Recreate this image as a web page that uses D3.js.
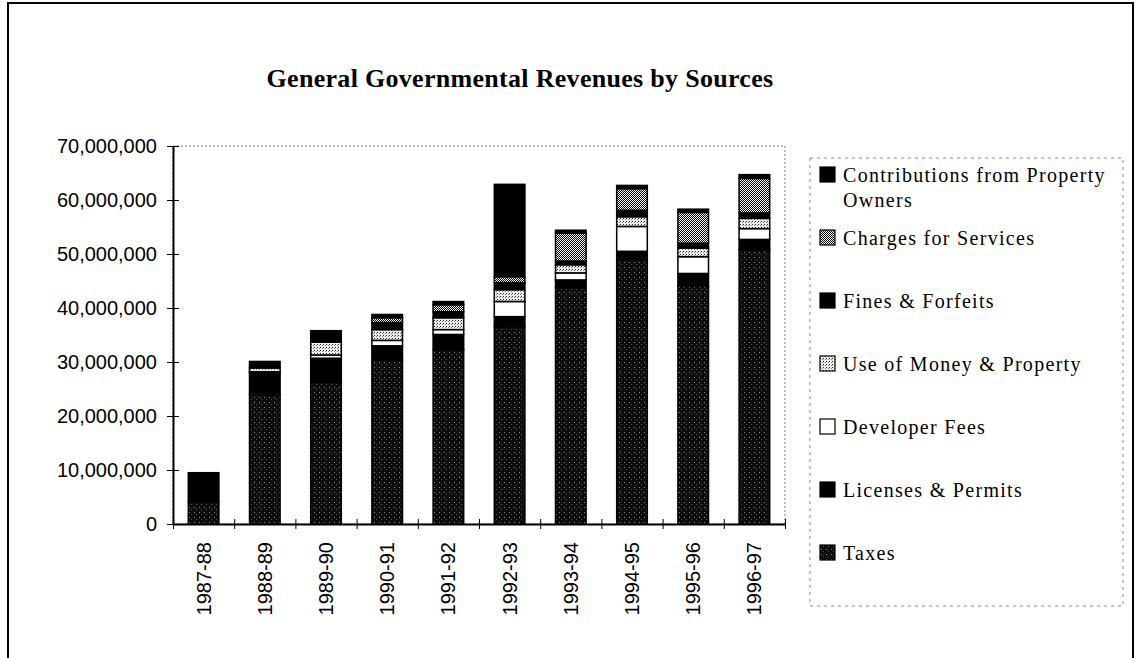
<!DOCTYPE html>
<html>
<head>
<meta charset="utf-8">
<script src="https://cdn.jsdelivr.net/npm/d3@7"></script>
<style>
  body { margin: 0; background: #fff; }
  svg { display: block; }
</style>
</head>
<body>
<div id="chart"></div>
<script>
// data (dollars)
var years = ["1987-88", "1988-89", "1989-90", "1990-91", "1991-92", "1992-93", "1993-94", "1994-95", "1995-96", "1996-97"];
var taxes = [4100000, 24000000, 26300000, 30400000, 32300000, 36500000, 43800000, 49000000, 44000000, 50800000];
var licensesPermits = [5400000, 4000000, 4400000, 2600000, 2800000, 1900000, 1400000, 1500000, 2400000, 1900000];
var developerFees = [0, 200000, 600000, 1000000, 900000, 2800000, 1300000, 4600000, 3100000, 2000000];
var useOfMoney = [0, 700000, 2400000, 2000000, 2200000, 2200000, 1500000, 1800000, 1600000, 1900000];
var finesForfeits = [0, 1200000, 2100000, 1300000, 1100000, 1300000, 700000, 1200000, 900000, 1000000];
var chargesServices = [0, 0, 0, 900000, 1300000, 1100000, 5200000, 4000000, 5700000, 6400000];
var contributions = [0, 0, 0, 600000, 600000, 17100000, 500000, 600000, 600000, 700000];
var yTicks = [0, 10000000, 20000000, 30000000, 40000000, 50000000, 60000000, 70000000];

// series bottom -> top
var series = [
  {key: "taxes", name: "Taxes", values: taxes, fill: "url(#pTaxes)"},
  {key: "lic", name: "Licenses & Permits", values: licensesPermits, fill: "#000"},
  {key: "dev", name: "Developer Fees", values: developerFees, fill: "#fff"},
  {key: "use", name: "Use of Money & Property", values: useOfMoney, fill: "url(#pUse)"},
  {key: "fines", name: "Fines & Forfeits", values: finesForfeits, fill: "#000"},
  {key: "chg", name: "Charges for Services", values: chargesServices, fill: "url(#pChg)"},
  {key: "contrib", name: ["Contributions from Property", "Owners"], values: contributions, fill: "#000"}
];

var W = 1139, H = 658;
var margin = {top: 146, left: 173, right: 354, bottom: 134};
var plotW = W - margin.left - margin.right,
    plotH = H - margin.top - margin.bottom;

var svg = d3.select("#chart").append("svg")
  .attr("width", W)
  .attr("height", H);

// fill patterns to mimic the halftone shading
var defs = svg.append("defs");
var pt = defs.append("pattern").attr("id", "pTaxes").attr("patternUnits", "userSpaceOnUse")
  .attr("width", 5).attr("height", 5);
pt.append("rect").attr("width", 5).attr("height", 5).attr("fill", "#0d0d0d");
pt.append("rect").attr("x", 1).attr("y", 1).attr("width", 1).attr("height", 1).attr("fill", "#8a8a8a");
pt.append("rect").attr("x", 3).attr("y", 3).attr("width", 1).attr("height", 1).attr("fill", "#555");

var pc = defs.append("pattern").attr("id", "pChg").attr("patternUnits", "userSpaceOnUse")
  .attr("width", 2).attr("height", 2);
pc.append("rect").attr("width", 2).attr("height", 2).attr("fill", "#fff");
pc.append("rect").attr("width", 1).attr("height", 1).attr("fill", "#000");
pc.append("rect").attr("x", 1).attr("y", 1).attr("width", 1).attr("height", 1).attr("fill", "#000");

var pu = defs.append("pattern").attr("id", "pUse").attr("patternUnits", "userSpaceOnUse")
  .attr("width", 3).attr("height", 3);
pu.append("rect").attr("width", 3).attr("height", 3).attr("fill", "#eee");
pu.append("rect").attr("width", 1).attr("height", 1).attr("fill", "#222");
pu.append("rect").attr("x", 2).attr("y", 1).attr("width", 1).attr("height", 1).attr("fill", "#777");

// outer frame
svg.append("rect")
  .attr("x", 8).attr("y", 3)
  .attr("width", 1125).attr("height", 680)
  .attr("fill", "none").attr("stroke", "#000").attr("stroke-width", 2);

// title
svg.append("text")
  .attr("x", 520).attr("y", 87)
  .attr("text-anchor", "middle")
  .style("font-family", "'Liberation Serif', 'Times New Roman', serif")
  .style("font-weight", "bold")
  .style("font-size", "26px")
  .style("letter-spacing", "0.3px")
  .text("General Governmental Revenues by Sources");

var g = svg.append("g")
  .attr("transform", "translate(" + margin.left + "," + margin.top + ")");

var x = d3.scaleBand()
  .domain(years)
  .range([0, plotW])
  .paddingInner(0.5)
  .paddingOuter(0.25);

var y = d3.scaleLinear()
  .domain([0, 70000000])
  .range([plotH, 0]);

// plot area border
g.append("rect")
  .attr("width", plotW).attr("height", plotH)
  .attr("fill", "none")
  .attr("stroke", "#777")
  .attr("stroke-width", 1)
  .attr("stroke-dasharray", "2,2");

// stack the series
var table = years.map(function(yr, i) {
  var row = {year: yr};
  series.forEach(function(s) { row[s.key] = s.values[i]; });
  return row;
});
var stacked = d3.stack().keys(series.map(function(s) { return s.key; }))(table);

g.selectAll(".layer")
  .data(stacked)
  .enter().append("g")
  .attr("class", "layer")
  .attr("fill", function(d, i) { return series[i].fill; })
  .selectAll("rect")
  .data(function(d) { return d.filter(function(p) { return p[1] - p[0] > 0; }); })
  .enter().append("rect")
  .attr("x", function(d) { return x(d.data.year); })
  .attr("y", function(d) { return y(d[1]); })
  .attr("width", x.bandwidth())
  .attr("height", function(d) { return y(d[0]) - y(d[1]); })
  .attr("stroke", "#000")
  .attr("stroke-width", 1.5);

// y axis
var yAxis = g.append("g")
  .call(d3.axisLeft(y).tickValues(yTicks).tickFormat(d3.format(",")).tickSizeInner(6).tickSizeOuter(0).tickPadding(10));
yAxis.select(".domain").attr("stroke-width", 2);
yAxis.selectAll(".tick line").attr("x1", 6);
yAxis.selectAll("text")
  .style("font-family", "'Liberation Sans', Arial, sans-serif")
  .style("font-size", "20px")
  .attr("fill", "#000");

// x axis: ticks at category boundaries
var xb = d3.scaleLinear().domain([0, years.length]).range([0, plotW]);
var xAxis = g.append("g")
  .attr("transform", "translate(0," + plotH + ")")
  .call(d3.axisBottom(xb).tickValues(d3.range(years.length + 1)).tickFormat("").tickSizeInner(5).tickSizeOuter(0));
xAxis.select(".domain").attr("stroke-width", 2);
xAxis.selectAll(".tick line").attr("y1", -5);

var xLabels = g.append("g")
  .attr("transform", "translate(0," + plotH + ")")
  .call(d3.axisBottom(x).tickSize(0).tickPadding(0));
xLabels.select(".domain").remove();
xLabels.selectAll("text")
  .attr("transform", "rotate(-90)")
  .attr("x", -18)
  .attr("y", 0)
  .attr("dy", "0.35em")
  .attr("text-anchor", "end")
  .style("font-family", "'Liberation Sans', Arial, sans-serif")
  .style("font-size", "20px")
  .attr("fill", "#000");

// legend
var legend = svg.append("g").attr("transform", "translate(810,158)");
legend.append("rect")
  .attr("width", 313).attr("height", 448)
  .attr("fill", "none")
  .attr("stroke", "#888")
  .attr("stroke-width", 1)
  .attr("stroke-dasharray", "3,4");

var items = series.slice().reverse();
var item = legend.selectAll(".item")
  .data(items)
  .enter().append("g")
  .attr("class", "item")
  .attr("transform", function(d, i) { return "translate(10," + (17 + i * 63) + ")"; });

item.append("rect")
  .attr("x", 0).attr("y", -8)
  .attr("width", 15).attr("height", 15)
  .attr("fill", function(d) { return d.fill; })
  .attr("stroke", "#000")
  .attr("stroke-width", 1.2);

item.append("text")
  .style("font-family", "'Liberation Serif', 'Times New Roman', serif")
  .style("font-size", "20px")
  .style("letter-spacing", "1.3px")
  .selectAll("tspan")
  .data(function(d) { return [].concat(d.name); })
  .enter().append("tspan")
  .attr("x", 23)
  .attr("y", function(d, i) { return 7 + i * 25; })
  .text(function(d) { return d; });
</script>
</body>
</html>
